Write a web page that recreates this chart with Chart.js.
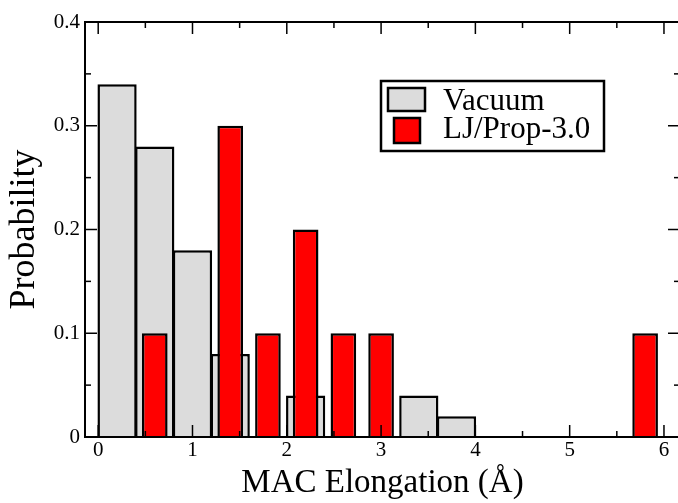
<!DOCTYPE html>
<html><head><meta charset="utf-8">
<script src="https://cdn.jsdelivr.net/npm/chart.js@4.4.1/dist/chart.umd.min.js"></script>
<style>
html,body{margin:0;padding:0;background:#fff;overflow:hidden;width:678px;height:503px}
#wrap{position:absolute;left:0;top:0;width:682px;height:503px}
</style>
</head><body><div id="wrap"><canvas id="c" width="682" height="503"></canvas></div>
<script>
const vacuumX = [0.2, 0.6, 1.0, 1.4, 2.2, 3.4, 3.8];
const vacuumY = [0.34, 0.28, 0.18, 0.08, 0.04, 0.04, 0.02];
const ljX = [0.6, 1.4, 1.8, 2.2, 2.6, 3.0, 5.8];
const ljY = [0.1, 0.3, 0.1, 0.2, 0.1, 0.1, 0.1];
const xTicks = [0, 1, 2, 3, 4, 5, 6];
const xMinorTicks = [0.5, 1.5, 2.5, 3.5, 4.5, 5.5];
const yTicks = [0, 0.1, 0.2, 0.3, 0.4];
const yMinorTicks = [0.05, 0.15, 0.25, 0.35];
const seriesNames = ['Vacuum', 'LJ/Prop-3.0'];
const xTitle = 'MAC Elongation (\u00C5)';
const yTitle = 'Probability';

const FONT = 'Liberation Serif';
const GRAY = '#dcdcdc';
const RED = '#ff0000';

const decor = {
  id: 'decor',
  afterDraw(chart) {
    const {ctx, chartArea: a, scales: {x, y}} = chart;
    ctx.save();
    ctx.strokeStyle = '#000';
    const line = (x1, y1, x2, y2) => { ctx.beginPath(); ctx.moveTo(x1, y1); ctx.lineTo(x2, y2); ctx.stroke(); };
    ctx.lineWidth = 1.5;
    xTicks.forEach(v => { const p = x.getPixelForValue(v); line(p, a.bottom, p, a.bottom - 12); line(p, a.top, p, a.top + 12); });
    xMinorTicks.forEach(v => { const p = x.getPixelForValue(v); line(p, a.bottom, p, a.bottom - 6); line(p, a.top, p, a.top + 6); });
    yTicks.forEach(v => { const p = y.getPixelForValue(v); line(a.left, p, a.left + 12, p); line(a.right, p, a.right - 12, p); });
    yMinorTicks.forEach(v => { const p = y.getPixelForValue(v); line(a.left, p, a.left + 6, p); line(a.right, p, a.right - 6, p); });
    ctx.lineWidth = 2;
    ctx.strokeRect(a.left, a.top, a.right - a.left, a.bottom - a.top);
    // legend
    ctx.fillStyle = '#fff';
    ctx.fillRect(381, 81, 223, 70);
    ctx.lineWidth = 2.5;
    ctx.strokeRect(381, 81, 223, 70);
    ctx.fillStyle = GRAY; ctx.fillRect(388, 88, 37, 23); ctx.strokeRect(388, 88, 37, 23);
    ctx.fillStyle = RED; ctx.fillRect(394, 118, 26, 25); ctx.strokeRect(394, 118, 26, 25);
    ctx.fillStyle = '#000';
    ctx.font = '31px "' + FONT + '"';
    ctx.textBaseline = 'alphabetic';
    ctx.textAlign = 'left';
    ctx.fillText(chart.data.datasets[0].label, 443, 110);
    ctx.fillText(chart.data.datasets[1].label, 443, 138);
    ctx.restore();
  }
};

new Chart(document.getElementById('c'), {
  type: 'bar',
  data: {
    datasets: [
      {
        label: seriesNames[0],
        data: vacuumX.map((v, i) => ({x: v, y: vacuumY[i]})),
        backgroundColor: GRAY, borderColor: '#000', borderWidth: 2.5,
        barPercentage: 1.04, categoryPercentage: 1, grouped: false, order: 1
      },
      {
        label: seriesNames[1],
        data: ljX.map((v, i) => ({x: v, y: ljY[i]})),
        backgroundColor: RED, borderColor: '#000', borderWidth: 2.5,
        barPercentage: 0.68, categoryPercentage: 1, grouped: false, order: 0
      }
    ]
  },
  options: {
    responsive: false, animation: false, devicePixelRatio: 1,
    layout: {padding: {left: 0, top: 22, right: 2, bottom: 0}},
    plugins: {legend: {display: false}, tooltip: {enabled: false}},
    scales: {
      x: {
        type: 'linear', min: -0.14, max: 6.17, offset: false,
        afterBuildTicks: s => { s.ticks = xTicks.map(v => ({value: v})); },
        afterFit: s => { s.height = 66; },
        grid: {display: false, drawTicks: false}, border: {display: false},
        ticks: {font: {family: FONT, size: 21}, color: '#000', padding: 1, maxRotation: 0, autoSkip: false,
                callback: v => String(v)},
        title: {display: true, text: xTitle, color: '#000',
                font: {family: FONT, size: 33, lineHeight: 1}, padding: {top: 0, bottom: 3}}
      },
      y: {
        type: 'linear', min: 0, max: 0.4,
        afterBuildTicks: s => { s.ticks = yTicks.map(v => ({value: v})); },
        afterFit: s => { s.width = 85; },
        grid: {display: false, drawTicks: false}, border: {display: false},
        ticks: {font: {family: FONT, size: 21}, color: '#000', padding: 5,
                callback: v => (v === 0 ? '0' : Number(v).toFixed(1))},
        title: {display: true, text: yTitle, color: '#000',
                font: {family: FONT, size: 36, lineHeight: 1}, padding: {top: 7, bottom: 0}}
      }
    }
  },
  plugins: [decor]
});
</script>
</body></html>
